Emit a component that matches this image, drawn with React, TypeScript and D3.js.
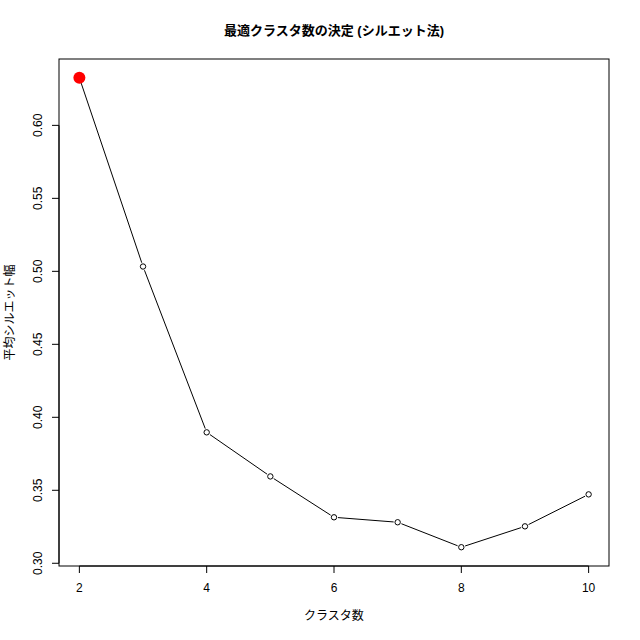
import React from "react";
import * as d3 from "d3";

const ks = [2, 3, 4, 5, 6, 7, 8, 9, 10];
const silhouette = [0.6326, 0.5033, 0.3897, 0.3595, 0.3315, 0.3281, 0.311, 0.3253, 0.3472];
const xTicks = [2, 4, 6, 8, 10];
const yTicks = [0.3, 0.35, 0.4, 0.45, 0.5, 0.55, 0.6];
const title = "最適クラスタ数の決定 (シルエット法)";
const xLabel = "クラスタ数";
const yLabel = "平均シルエット幅";

const FONT = "'Liberation Sans', 'Noto Sans CJK JP', sans-serif";

export default function App() {
  const left = 59, right = 609, top = 59, bottom = 566;
  const xmin = d3.min(ks)!, xmax = d3.max(ks)!;
  const ymin = d3.min(silhouette)!, ymax = d3.max(silhouette)!;
  const xr = (xmax - xmin) * 0.04, yr = (ymax - ymin) * 0.04;
  const x = d3.scaleLinear().domain([xmin - xr, xmax + xr]).range([left, right]);
  const y = d3.scaleLinear().domain([ymin - yr, ymax + yr]).range([bottom, top]);
  const best = silhouette.indexOf(ymax);

  const pts = ks.map((k, i) => [x(k), y(silhouette[i])] as [number, number]);
  const gap = 4;
  const segs = pts.slice(1).map((p, i) => {
    const a = pts[i];
    const dx = p[0] - a[0], dy = p[1] - a[1];
    const len = Math.hypot(dx, dy);
    const ux = dx / len, uy = dy / len;
    return { x1: a[0] + ux * gap, y1: a[1] + uy * gap, x2: p[0] - ux * gap, y2: p[1] - uy * gap, ok: len > 2 * gap };
  });

  return (
    <svg width={640} height={640} style={{ position: "absolute", left: 0, top: 0, background: "white" }} fontFamily={FONT}>
      <rect x={0} y={0} width={640} height={640} fill="white" />
      <text x={(left + right) / 2} y={35} textAnchor="middle" fontWeight="bold" fontSize={13}>{title}</text>
      <rect x={left} y={top} width={right - left} height={bottom - top} fill="none" stroke="#000" strokeWidth={1} />
      {/* x axis */}
      <line x1={x(xTicks[0])} x2={x(xTicks[xTicks.length - 1])} y1={bottom} y2={bottom} stroke="#000" />
      {xTicks.map((t) => (
        <g key={t}>
          <line x1={x(t)} x2={x(t)} y1={bottom} y2={bottom + 7} stroke="#000" />
          <text x={x(t)} y={bottom + 26} textAnchor="middle" fontSize={12}>{t}</text>
        </g>
      ))}
      {/* y axis */}
      <line x1={left} x2={left} y1={y(yTicks[0])} y2={y(yTicks[yTicks.length - 1])} stroke="#000" />
      {yTicks.map((t) => (
        <g key={t}>
          <line x1={left - 7} x2={left} y1={y(t)} y2={y(t)} stroke="#000" />
          <text transform={`translate(${left - 17},${y(t)}) rotate(-90)`} textAnchor="middle" fontSize={12}>{t.toFixed(2)}</text>
        </g>
      ))}
      <text x={(left + right) / 2} y={620} textAnchor="middle" fontSize={12}>{xLabel}</text>
      <text transform={`translate(14,${(top + bottom) / 2}) rotate(-90)`} textAnchor="middle" fontSize={12}>{yLabel}</text>
      {segs.map((s, i) => s.ok ? <line key={i} x1={s.x1} y1={s.y1} x2={s.x2} y2={s.y2} stroke="#000" strokeWidth={1} /> : null)}
      {pts.map((p, i) => i === best ? null : (
        <circle key={i} cx={p[0]} cy={p[1]} r={2.7} fill="none" stroke="#000" strokeWidth={1} />
      ))}
      <circle cx={pts[best][0]} cy={pts[best][1]} r={6} fill="#ff0000" />
    </svg>
  );
}
